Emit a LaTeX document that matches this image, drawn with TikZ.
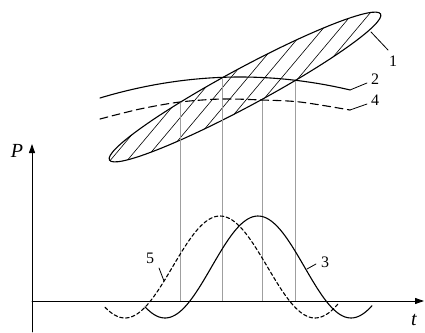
\documentclass[tikz,border=0pt]{standalone}
\usepackage{fontspec}
\setmainfont{Liberation Serif}
\usetikzlibrary{arrows.meta}
\begin{document}
\begin{tikzpicture}[x=1pt,y=-1pt, line cap=round, line join=round,
  main/.style={line width=1.1pt, black},
  hatch/.style={line width=0.6pt, black},
  gridline/.style={line width=0.5pt, gray!75},
  leader/.style={line width=0.8pt, black},
  lbl/.style={font=\fontsize{16}{16}\selectfont, inner sep=0pt},
  axlbl/.style={font=\fontsize{20}{20}\selectfont\itshape, inner sep=0pt},
  axis/.style={line width=0.9pt, -{Triangle[length=9pt,width=6pt]}}]
\useasboundingbox (0,0) rectangle (425,332);
% hatching inside the ellipse
\begin{scope}
  \clip[shift={(245,87)}, rotate=28.3] (0,0) ellipse [x radius=154pt, y radius=19pt];
  \foreach \i in {0,...,24} \draw[hatch] (60+17*\i,200) -- ++(168,-200);
\end{scope}
\draw[main, shift={(245,87)}, rotate=28.3] (0,0) ellipse [x radius=154pt, y radius=19pt];
% points on the curves
\coordinate (a1) at (180,102);
\coordinate (a2) at (222,77.3);
\coordinate (a3) at (262,100);
\coordinate (a4) at (295,80.2);
\coordinate (b1) at (180,301);
\coordinate (b2) at (222,301);
\coordinate (b3) at (262,301);
\coordinate (b4) at (295,301);
\draw[gridline] (a1) -- (b1);
\draw[gridline] (a2) -- (b2);
\draw[gridline] (a3) -- (b3);
\draw[gridline] (a4) -- (b4);
% curve 2
\draw[main] plot[domain=100:350, samples=60] (\x,{77+10.7*((\x-240)/100)^2});
% curve 4
\draw[main, dash pattern=on 8pt off 4.5pt] plot[smooth] coordinates {(100,119) (140,109) (180,102) (222,99) (262,100) (300,102) (350,110)};
% axes
\coordinate (o) at (32,301);
\coordinate (pb) at (32,332);
\coordinate (pt) at (32,144);
\coordinate (tt) at (424,301);
\draw[axis] (pb) -- (pt);
\draw[axis] (o) -- (tt);
\node[axlbl] (P) at (17,151) {P};
\node[axlbl] (t) at (414,320) {t};
% curve 3
\draw[main] plot[domain=145:372, samples=100] (\x,{267-51*cos(1.9355*(\x-258))});
% curve 5
\draw[main, dash pattern=on 3.5pt off 2.5pt] plot[domain=105:338, samples=100] (\x,{267-51*cos(1.8947*(\x-220))});
% labels and leaders
\node[lbl] (l1) at (393,61) {1};
\node[lbl] (l2) at (375,79) {2};
\node[lbl] (l4) at (375,100) {4};
\node[lbl] (l5) at (150,258) {5};
\node[lbl] (l3) at (325,262) {3};
\coordinate (c1a) at (371,32);
\coordinate (c1b) at (388,50);
\coordinate (c2a) at (350,90);
\coordinate (c2b) at (367,83);
\coordinate (c4a) at (350,110);
\coordinate (c4b) at (367,104);
\coordinate (c5a) at (159,268);
\coordinate (c5b) at (164,281);
\coordinate (c3a) at (307,269);
\coordinate (c3b) at (316,264);
\draw[leader] (c1a) -- (c1b);
\draw[leader] (c2a) -- (c2b);
\draw[leader] (c4a) -- (c4b);
\draw[leader] (c5a) -- (c5b);
\draw[leader] (c3a) -- (c3b);
\end{tikzpicture}
\end{document}
